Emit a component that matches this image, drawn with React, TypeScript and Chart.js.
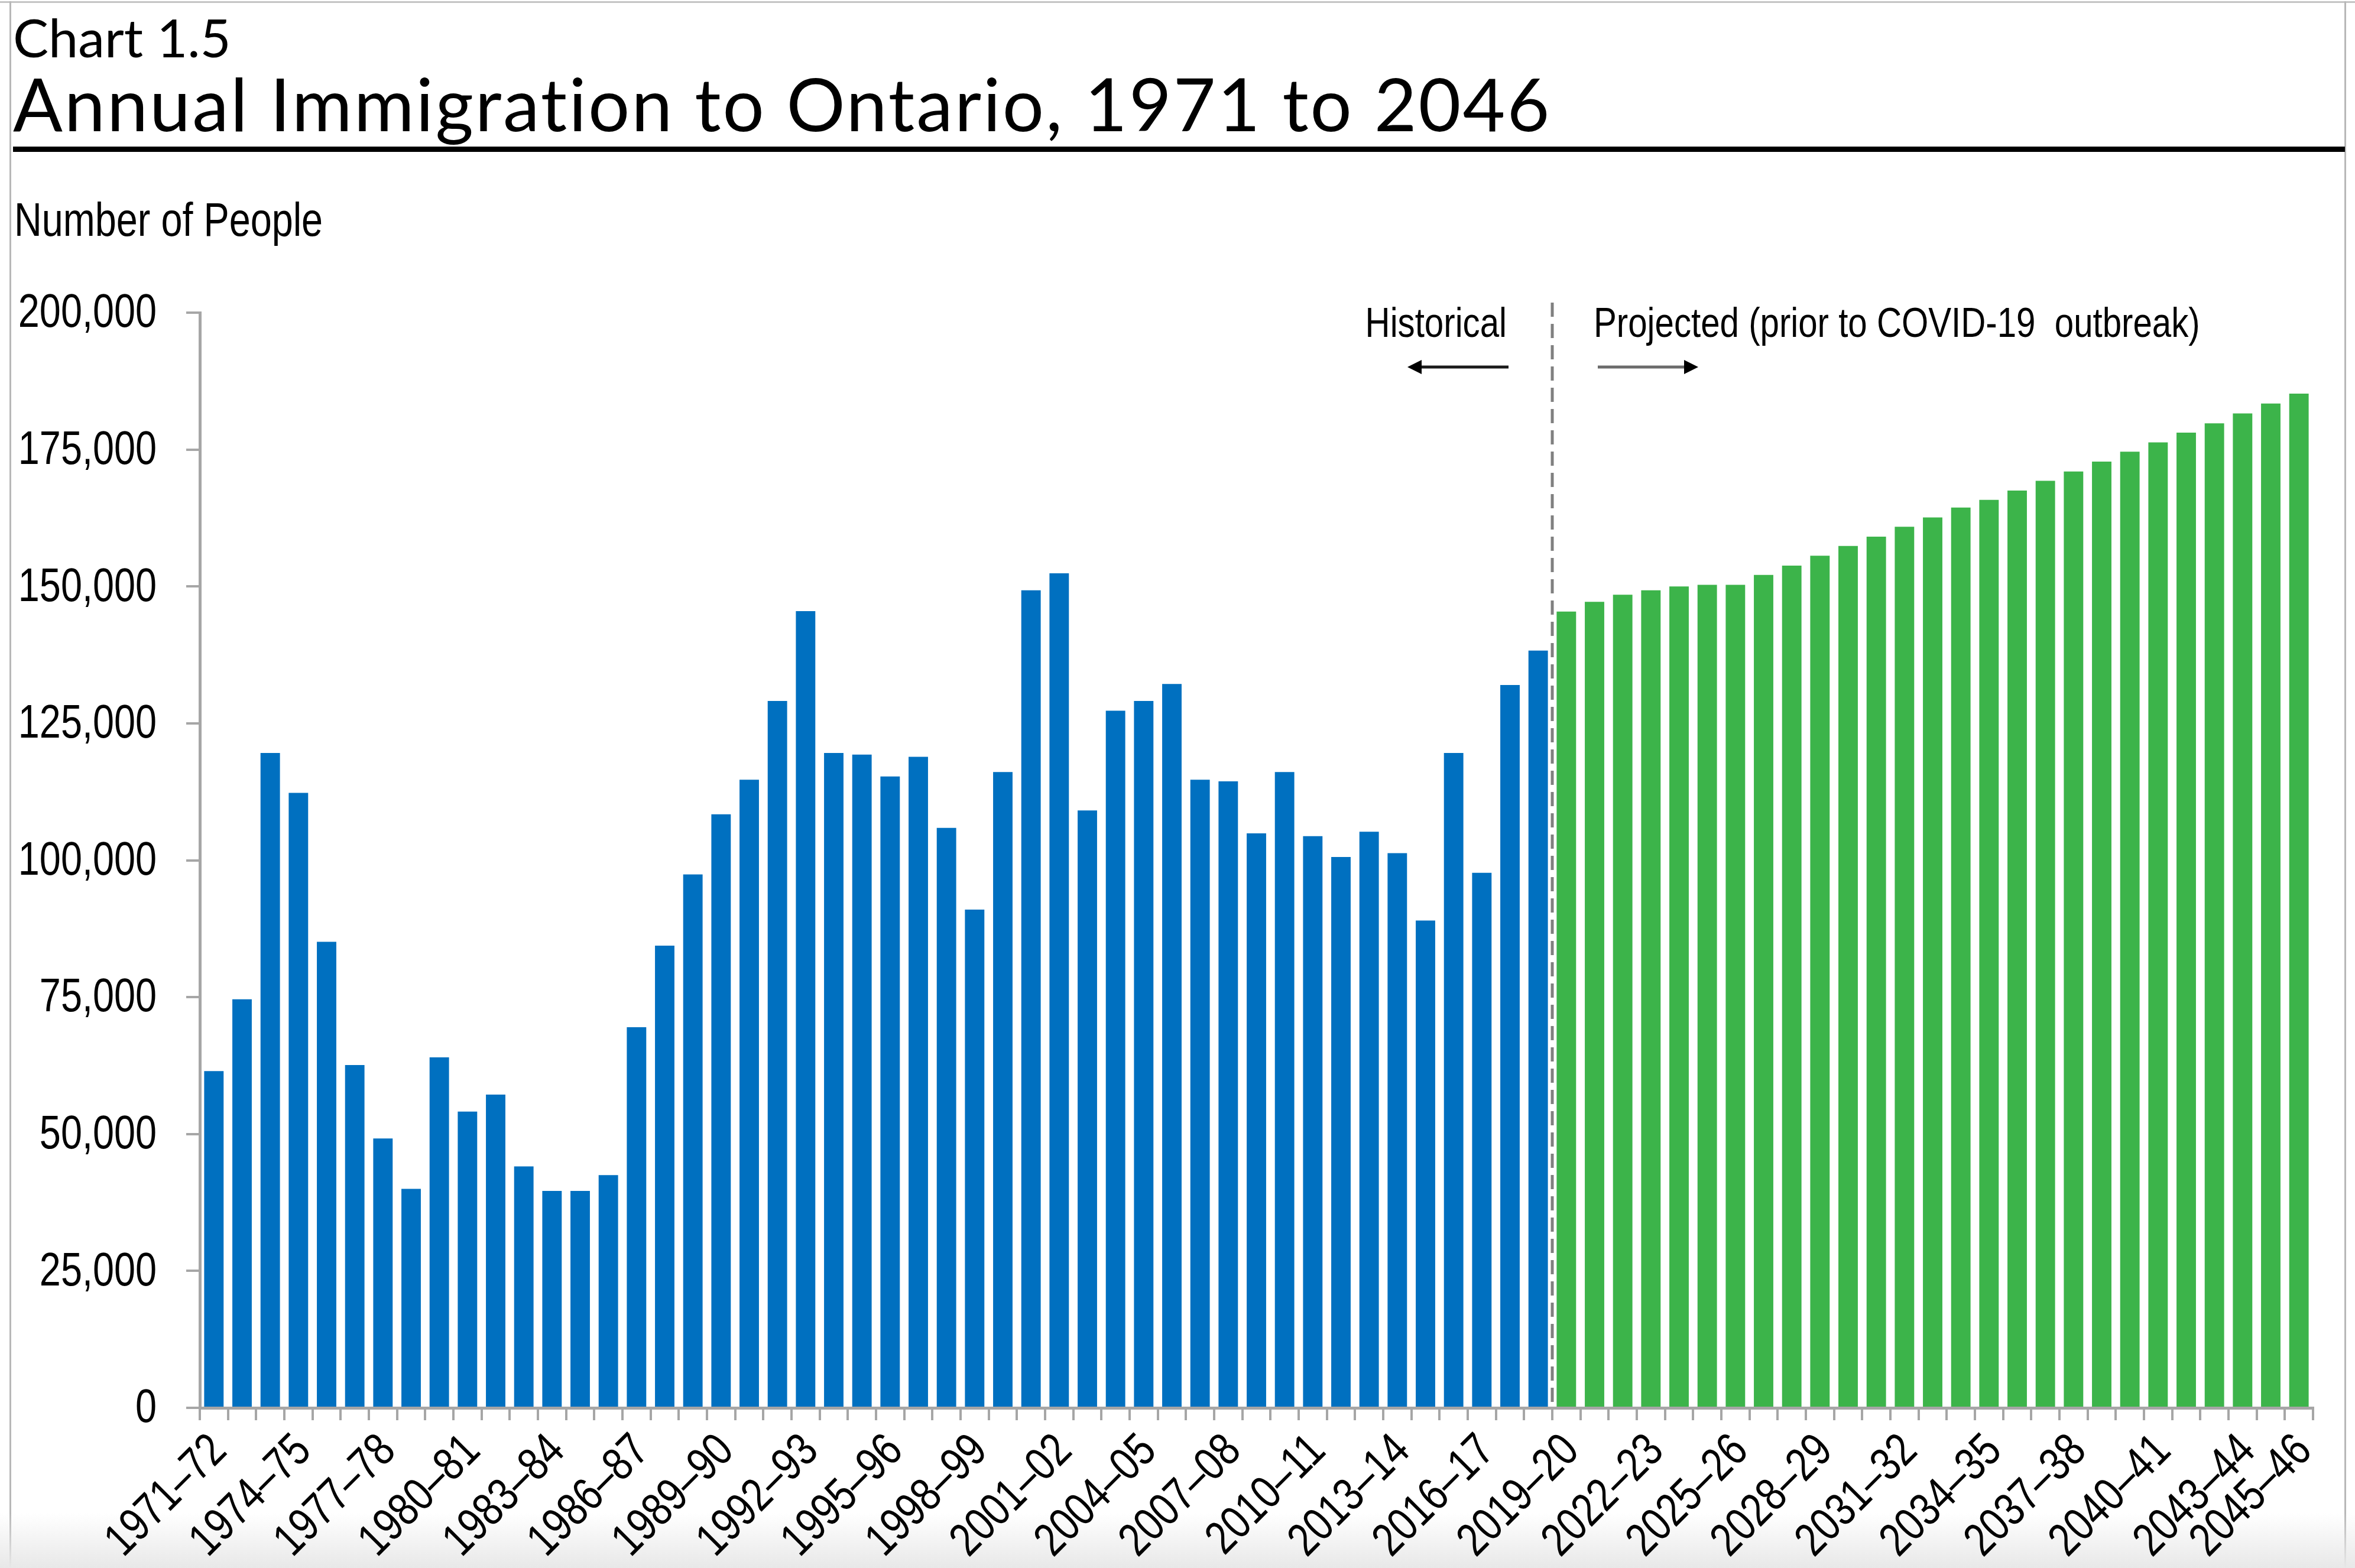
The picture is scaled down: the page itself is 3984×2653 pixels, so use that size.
import React, { useEffect, useRef } from 'react';
import { Chart, registerables } from 'chart.js';

Chart.register(...registerables);

// ---------- data ----------
const categories = [
  '1971–72', '1972–73', '1973–74', '1974–75', '1975–76', '1976–77', '1977–78', '1978–79', '1979–80', '1980–81',
  '1981–82', '1982–83', '1983–84', '1984–85', '1985–86', '1986–87', '1987–88', '1988–89', '1989–90', '1990–91',
  '1991–92', '1992–93', '1993–94', '1994–95', '1995–96', '1996–97', '1997–98', '1998–99', '1999–00', '2000–01',
  '2001–02', '2002–03', '2003–04', '2004–05', '2005–06', '2006–07', '2007–08', '2008–09', '2009–10', '2010–11',
  '2011–12', '2012–13', '2013–14', '2014–15', '2015–16', '2016–17', '2017–18', '2018–19', '2019–20', '2020–21',
  '2021–22', '2022–23', '2023–24', '2024–25', '2025–26', '2026–27', '2027–28', '2028–29', '2029–30', '2030–31',
  '2031–32', '2032–33', '2033–34', '2034–35', '2035–36', '2036–37', '2037–38', '2038–39', '2039–40', '2040–41',
  '2041–42', '2042–43', '2043–44', '2044–45', '2045–46',
];

// Historical, 1971–72 to 2018–19
const historical = [
  61500, 74600, 119600, 112300, 85100, 62600, 49200, 40000, 64000, 54100,
  57200, 44100, 39600, 39600, 42500, 69500, 84400, 97400, 108400, 114700,
  129100, 145500, 119600, 119300, 115300, 118900, 105900, 91000, 116100, 149300,
  152400, 109100, 127300, 129100, 132200, 114700, 114400, 104900, 116100, 104400,
  100600, 105200, 101300, 89000, 119600, 97700, 132000, 138300,
];

// Projected (prior to COVID-19 outbreak), 2019–20 to 2045–46
const projected = [
  145400, 147200, 148500, 149300, 150000, 150300, 150300, 152100, 153800, 155600,
  157400, 159100, 160900, 162600, 164400, 165800, 167500, 169300, 171000, 172800,
  174600, 176300, 178100, 179800, 181600, 183400, 185200,
];

// x tick labels that are shown
const tickLabels = [
  '1971–72', '1974–75', '1977–78', '1980–81', '1983–84', '1986–87', '1989–90', '1992–93', '1995–96',
  '1998–99', '2001–02', '2004–05', '2007–08', '2010–11', '2013–14', '2016–17', '2019–20', '2022–23',
  '2025–26', '2028–29', '2031–32', '2034–35', '2037–38', '2040–41', '2043–44', '2045–46',
];

// y tick values
const yTicks = [0, 25000, 50000, 75000, 100000, 125000, 150000, 175000, 200000];

const chartLabel = 'Chart 1.5';
const chartTitle = 'Annual Immigration to Ontario, 1971 to 2046';
const yAxisTitle = 'Number of People';
const historicalNote = 'Historical';
const projectedNote = 'Projected (prior to COVID-19  outbreak)';

// ---------- styles ----------
const W = 3984;
const H = 2653;
const BLUE = '#0070C0';
const GREEN = '#3CB44A';
const AXIS = '#A6A6A6';
const SANS = '"Liberation Sans", Arial, sans-serif';
const NARROW_SCALE = 0.82; // Arial Narrow ≈ Arial squeezed horizontally
const HEAD = 'Lato, "Open Sans", sans-serif';
const TICK_SIZE = 79;
const NOTE_SIZE = 71;

function narrowText(
  ctx: CanvasRenderingContext2D,
  text: string,
  x: number,
  y: number,
  size: number,
  align: CanvasTextAlign,
  rotation = 0,
  dy = 0,
) {
  ctx.save();
  ctx.translate(x, y);
  if (rotation) ctx.rotate(rotation);
  ctx.scale(NARROW_SCALE, 1);
  ctx.font = `${size}px ${SANS}`;
  ctx.textAlign = align;
  ctx.textBaseline = 'alphabetic';
  ctx.fillStyle = '#000';
  ctx.fillText(text, 0, dy);
  ctx.restore();
}

const labelsPlugin = {
  id: 'narrowLabels',
  afterDraw(chart: any) {
    const { ctx, chartArea, scales } = chart;
    const xs = scales.x;
    const ys = scales.y;
    const cap = TICK_SIZE * 0.716;
    // y tick labels
    yTicks.forEach((v) => {
      const py = ys.getPixelForValue(v);
      narrowText(ctx, v.toLocaleString('en-US'), chartArea.left - 73, py + cap / 2 - 4, TICK_SIZE, 'right');
    });
    // x tick labels, rotated 45°
    tickLabels.forEach((lab) => {
      const i = categories.indexOf(lab);
      const px = xs.getPixelForValue(i);
      narrowText(ctx, lab, px + 5, chartArea.bottom + 56, TICK_SIZE, 'right', -Math.PI / 4, cap / 2);
    });
  },
};

const annotationPlugin = {
  id: 'periodAnnotations',
  afterDatasetsDraw(chart: any) {
    const { ctx, chartArea, scales } = chart;
    const x = scales.x;
    const split = (x.getPixelForValue(historical.length - 1) + x.getPixelForValue(historical.length)) / 2;
    const top = chartArea.top;
    ctx.save();
    // dashed divider
    ctx.strokeStyle = '#808080';
    ctx.lineWidth = 5;
    ctx.setLineDash([24, 12]);
    ctx.beginPath();
    ctx.moveTo(split, top - 17);
    ctx.lineTo(split, chartArea.bottom);
    ctx.stroke();
    ctx.setLineDash([]);

    // notes
    narrowText(ctx, historicalNote, split - 77, top + 41, NOTE_SIZE, 'right');
    narrowText(ctx, projectedNote, split + 70, top + 41, NOTE_SIZE, 'left');

    // arrows
    const drawArrow = (from: number, to: number, y: number, shaft: string) => {
      const dir = Math.sign(to - from);
      const headLen = 24;
      ctx.strokeStyle = shaft;
      ctx.lineWidth = 5;
      ctx.beginPath();
      ctx.moveTo(from, y);
      ctx.lineTo(to - dir * headLen, y);
      ctx.stroke();
      ctx.fillStyle = '#000';
      ctx.beginPath();
      ctx.moveTo(to, y);
      ctx.lineTo(to - dir * headLen, y - 12);
      ctx.lineTo(to - dir * headLen, y + 12);
      ctx.closePath();
      ctx.fill();
    };
    const ay = top + 92;
    drawArrow(split - 74, split - 245, ay, '#1a1a1a');
    drawArrow(split + 77, split + 247, ay, '#6b6b6b');
    ctx.restore();
  },
};

export default function App() {
  const canvasRef = useRef<HTMLCanvasElement | null>(null);

  useEffect(() => {
    const canvas = canvasRef.current;
    if (!canvas) return;
    const nulls = (n: number) => new Array(n).fill(null);
    const chart = new Chart(canvas, {
      type: 'bar',
      data: {
        labels: categories,
        datasets: [
          {
            label: 'Historical',
            data: [...historical, ...nulls(projected.length)],
            backgroundColor: BLUE,
            grouped: false,
            barPercentage: 0.69,
            categoryPercentage: 1,
          } as any,
          {
            label: 'Projected',
            data: [...nulls(historical.length), ...projected],
            backgroundColor: GREEN,
            grouped: false,
            barPercentage: 0.69,
            categoryPercentage: 1,
          } as any,
        ],
      },
      options: {
        animation: false,
        responsive: false,
        maintainAspectRatio: false,
        devicePixelRatio: 1,
        layout: { padding: { left: 0, right: 71, top: 529, bottom: 0 } },
        plugins: {
          legend: { display: false },
          tooltip: { enabled: false },
        },
        scales: {
          x: {
            grid: {
              offset: true,
              drawOnChartArea: false,
              drawTicks: true,
              tickLength: 21,
              color: AXIS,
              lineWidth: 4,
            },
            border: { display: true, color: AXIS, width: 5 },
            ticks: { display: false, autoSkip: false },
            afterFit: (s: any) => {
              s.height = H - 2382;
            },
          },
          y: {
            min: yTicks[0],
            max: yTicks[yTicks.length - 1],
            grid: {
              drawOnChartArea: false,
              drawTicks: true,
              tickLength: 23,
              color: AXIS,
              lineWidth: 4,
            },
            border: { display: true, color: AXIS, width: 5 },
            ticks: { display: false, stepSize: yTicks[1] - yTicks[0] },
            afterFit: (s: any) => {
              s.width = 338;
            },
          },
        },
      } as any,
      plugins: [annotationPlugin, labelsPlugin],
    });
    return () => chart.destroy();
  }, []);

  return (
    <div
      style={{
        position: 'absolute',
        left: 0,
        top: 0,
        width: W,
        height: H,
        background: '#fff',
        overflow: 'hidden',
      }}
    >
      {/* screenshot frame */}
      <div style={{ position: 'absolute', left: 0, top: 2, width: W, height: 3, background: '#c4c4c4' }} />
      <div style={{ position: 'absolute', left: 16, top: 2, width: 3, height: H, background: '#b8b8b8' }} />
      <div style={{ position: 'absolute', left: 3966, top: 2, width: 3, height: H, background: '#b8b8b8' }} />
      <div
        style={{
          position: 'absolute',
          left: 0,
          top: 2560,
          width: W,
          height: H - 2560,
          background: 'linear-gradient(to bottom, rgba(235,235,235,0), rgba(232,232,232,1))',
        }}
      />
      <canvas
        ref={canvasRef}
        width={W}
        height={H}
        style={{ position: 'absolute', left: 0, top: 0, width: W, height: H }}
      />
      <div
        style={{
          position: 'absolute',
          left: 22,
          top: 17,
          fontFamily: HEAD,
          fontSize: 90,
          lineHeight: 1,
          color: '#000',
          whiteSpace: 'pre',
          fontVariantLigatures: 'none',
        }}
      >
        {chartLabel}
      </div>
      <div
        style={{
          position: 'absolute',
          left: 22,
          top: 112,
          fontFamily: HEAD,
          fontSize: 124,
          lineHeight: 1,
          letterSpacing: 3,
          color: '#000',
          whiteSpace: 'pre',
          fontVariantLigatures: 'none',
        }}
      >
        {chartTitle}
      </div>
      <div style={{ position: 'absolute', left: 22, top: 248, width: 3945, height: 9, background: '#000' }} />
      <div
        style={{
          position: 'absolute',
          left: 24,
          top: 332,
          fontFamily: SANS,
          fontSize: 79,
          lineHeight: 1,
          color: '#000',
          whiteSpace: 'pre',
          transform: `scaleX(${NARROW_SCALE})`,
          transformOrigin: 'left top',
        }}
      >
        {yAxisTitle}
      </div>
    </div>
  );
}
